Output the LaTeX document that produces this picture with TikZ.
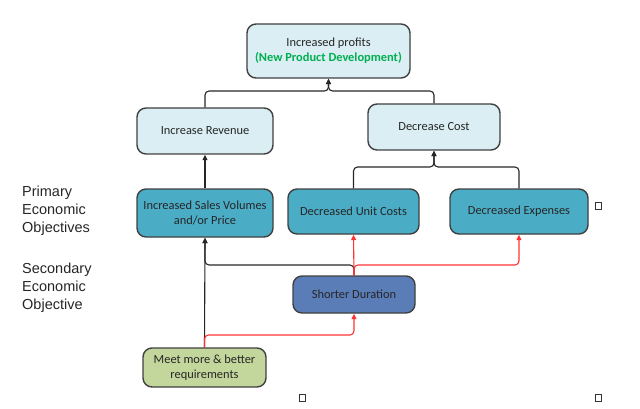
\documentclass[tikz,border=0pt]{standalone}
\usepackage{fontspec}
\setmainfont{Carlito}
\newfontfamily\arialfont{Liberation Sans}
\usetikzlibrary{arrows.meta}
\definecolor{lightbox}{HTML}{DAEEF3}
\definecolor{tealbox}{HTML}{4BACC6}
\definecolor{bluebox}{HTML}{5A7DB8}
\definecolor{olivebox}{HTML}{C3D69B}
\definecolor{edgegray}{HTML}{404040}
\definecolor{greentext}{HTML}{00B050}
\definecolor{redline}{HTML}{FF3333}
\tikzset{
  box/.style={draw=edgegray, line width=1.4pt, rounded corners=9pt, align=center,
    font=\fontsize{12.4}{15}\selectfont, text=black!85, inner sep=2pt},
  conn/.style={draw=black!85, line width=1.1pt, rounded corners=4pt, -{Triangle[length=5.5pt,width=5pt]}},
  rconn/.style={draw=redline, line width=1.1pt, rounded corners=4pt, -{Triangle[length=5.5pt,width=5pt]}},
  sidelabel/.style={anchor=north west, align=left, inner sep=0pt, font=\arialfont\fontsize{14.5}{18}\selectfont, text=black!85},
  smallsq/.style={draw=black!80, line width=0.6pt, minimum width=6pt, minimum height=7pt, inner sep=0pt}
}
\begin{document}
\begin{tikzpicture}[x=1pt,y=-1pt]
\useasboundingbox (0,0) rectangle (640,409);
\node[box, fill=lightbox, minimum width=163pt, minimum height=54pt] (profits) at (328.5,51) {Increased profits\\\textcolor{greentext}{\textbf{(New Product Development)}}};
\node[box, fill=lightbox, minimum width=136pt, minimum height=46pt] (IR) at (205,131) {Increase Revenue};
\node[box, fill=lightbox, minimum width=132pt, minimum height=46pt] (DC) at (434,127) {Decrease Cost};
\node[box, fill=tealbox, minimum width=136pt, minimum height=48pt] (ISV) at (205,213) {Increased Sales Volumes\\and/or Price};
\node[box, fill=tealbox, minimum width=131pt, minimum height=45pt] (DUC) at (353.5,211.5) {Decreased Unit Costs};
\node[box, fill=tealbox, minimum width=138pt, minimum height=45pt] (DE) at (519,211.5) {Decreased Expenses};
\node[box, fill=bluebox, minimum width=122pt, minimum height=37pt] (SD) at (354,294.5) {Shorter Duration};
\node[box, fill=olivebox, minimum width=123pt, minimum height=39pt] (MM) at (204.5,367.5) {Meet more \& better\\requirements};
\node[sidelabel] (prim) at (22,186) {Primary\\Economic\\Objectives};
\node[sidelabel] (sec) at (22,263) {Secondary\\Economic\\Objective};
\node[smallsq] (m1) at (598,206) {};
\node[smallsq] (m2) at (302,398) {};
\node[smallsq] (m3) at (598,398) {};
\coordinate (j1) at (0,91);
\coordinate (j2) at (0,167);
\coordinate (j3) at (0,265);
\coordinate (j4) at (0,335);
\draw[conn] (IR.north) -- (IR.north |- j1) -| (profits.south);
\draw[conn] (DC.north) -- (DC.north |- j1) -| (profits.south);
\draw[conn] (DUC.north) -- (DUC.north |- j2) -| (DC.south);
\draw[conn] (DE.north) -- (DE.north |- j2) -| (DC.south);
\draw[conn] (ISV.north) -- (IR.south);
\draw[conn] (MM.north) -- (ISV.south);
\draw[conn] (SD.north) -- (SD.north |- j3) -| (ISV.south);
\draw[rconn] (SD.north) -- (DUC.south);
\draw[rconn] (SD.north) -- (SD.north |- j3) -| (DE.south);
\draw[rconn] (MM.north) -- (MM.north |- j4) -| (SD.south);
\end{tikzpicture}
\end{document}
